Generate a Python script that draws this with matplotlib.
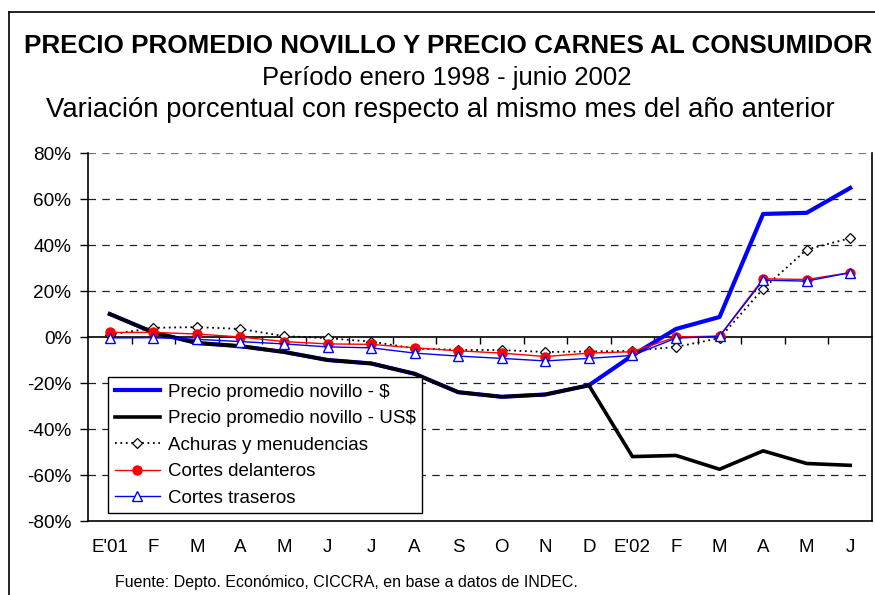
import numpy as np
import matplotlib
matplotlib.use("Agg")
import matplotlib.pyplot as plt
from matplotlib.lines import Line2D

plt.rcParams['font.family'] = ['Liberation Sans', 'DejaVu Sans']

# meses enero 2001 - junio 2002
meses = ["E'01", "F", "M", "A", "M", "J", "J", "A", "S", "O", "N", "D",
         "E'02", "F", "M", "A", "M", "J"]

# variacion porcentual interanual
novillo_pesos = [10, 2, -2.6, -4, -6.5, -10, -11.5, -16, -24, -26, -25, -21,
                 -8, 3.5, 8.7, 53.5, 54, 64.8]
novillo_dolar = [10, 2, -2.6, -4, -6.5, -10, -11.5, -16, -24, -26, -25, -21,
                 -52, -51.5, -57.5, -49.5, -55, -55.8]
achuras = [1, 4, 4.3, 3.5, 0.4, -0.5, -2, -5, -5.6, -5.7, -6.5, -6.3,
           -6, -4.3, -0.5, 21, 38, 43]
delanteros = [2, 2, 1.3, 0, -2, -3, -3.2, -4.7, -6, -7, -8.5, -7,
              -6.4, 0, 0.4, 25.3, 25, 28]
traseros = [-0.4, -0.3, -1, -2, -3, -4.3, -4.7, -7, -8.3, -9.3, -10.4, -9.3,
            -8, -0.5, 0.3, 24.7, 24.3, 28]

x = np.arange(len(meses))

fig = plt.figure(figsize=(8.75, 5.95), dpi=100)
ax = fig.add_axes([88/875, 1-521/595, 784/875, 368/595])

ax.plot(x, novillo_pesos, color='#0000FF', lw=3.0, zorder=3, label='Precio promedio novillo - $')
ax.plot(x, novillo_dolar, color='black', lw=2.6, zorder=4, label='Precio promedio novillo - US$')
ax.plot(x, achuras, color='black', lw=1.3, ls=(0, (1, 2)), marker='D', ms=5.5,
        mfc='white', mec='black', mew=0.9, zorder=5, label='Achuras y menudencias')
ax.plot(x, delanteros, color='#FF0000', lw=1.0, marker='o', ms=6.5,
        mfc='#FF0000', mec='#FF0000', zorder=6, label='Cortes delanteros')
ax.plot(x, traseros, color='#0000FF', lw=1.0, marker='^', ms=7.5,
        mfc='white', mec='#0000FF', mew=1.0, zorder=7, label='Cortes traseros')

ax.set_xlim(-0.5, len(meses) - 0.5)
ax.set_ylim(-80, 80)
ax.set_yticks(np.arange(-80, 81, 20))
ax.set_yticklabels([f'{v}%' for v in range(-80, 81, 20)], fontsize=13.7)
ax.tick_params(axis='y', direction='out', length=6, width=1, pad=6)

# lineas de grilla discontinuas
for v in [20, 40, 60, -20, -40, -60]:
    ax.axhline(v, color='#222222', lw=0.9, ls=(0, (6, 5)), zorder=1)
ax.axhline(80, color='#777777', lw=0.9, ls=(0, (6, 5)), zorder=1)

# eje x en el cero con marcas entre categorias
ax.spines['top'].set_visible(False)
ax.spines['bottom'].set_position(('data', 0))
ax.spines['bottom'].set_linewidth(1.2)
ax.spines['left'].set_linewidth(1.2)
ax.spines['right'].set_linewidth(1.2)
ax.set_xticks(x[:-1] + 0.5)
ax.set_xticklabels([])
ax.tick_params(axis='x', direction='out', length=5, width=1)

sec = ax.secondary_xaxis(0.0)
sec.set_xticks(x)
sec.set_xticklabels(meses, fontsize=13.5)
sec.tick_params(length=0, pad=13)
sec.spines['bottom'].set_linewidth(1.2)

leg = ax.legend(loc='upper left', bbox_to_anchor=(108/875, 1-377/595),
                bbox_transform=fig.transFigure, borderaxespad=0,
                fontsize=13.5, fancybox=False, framealpha=1,
                edgecolor='black', handlelength=2.4, handletextpad=0.45,
                labelspacing=0.5, borderpad=0.35)
leg.get_frame().set_linewidth(1.0)
leg.set_zorder(10)

fig.text(448/875, 1-46/595, 'PRECIO PROMEDIO NOVILLO Y PRECIO CARNES AL CONSUMIDOR',
         ha='center', va='center', fontsize=18.7, fontweight='bold')
fig.text(447/875, 1-78/595, 'Período enero 1998 - junio 2002',
         ha='center', va='center', fontsize=18.5)
fig.text(440/875, 1-110/595, 'Variación porcentual con respecto al mismo mes del año anterior',
         ha='center', va='center', fontsize=19.8)
fig.text(115/875, 1-583/595, 'Fuente: Depto. Económico, CICCRA, en base a datos de INDEC.',
         ha='left', va='center', fontsize=11.5)

# marco exterior
fig.add_artist(Line2D([9/875, 9/875], [0, 1-12/595], color='black', lw=1.2,
                      transform=fig.transFigure))
fig.add_artist(Line2D([9/875, 1], [1-12/595, 1-12/595], color='black', lw=1.2,
                      transform=fig.transFigure))

fig.savefig('out.png', dpi=100)
